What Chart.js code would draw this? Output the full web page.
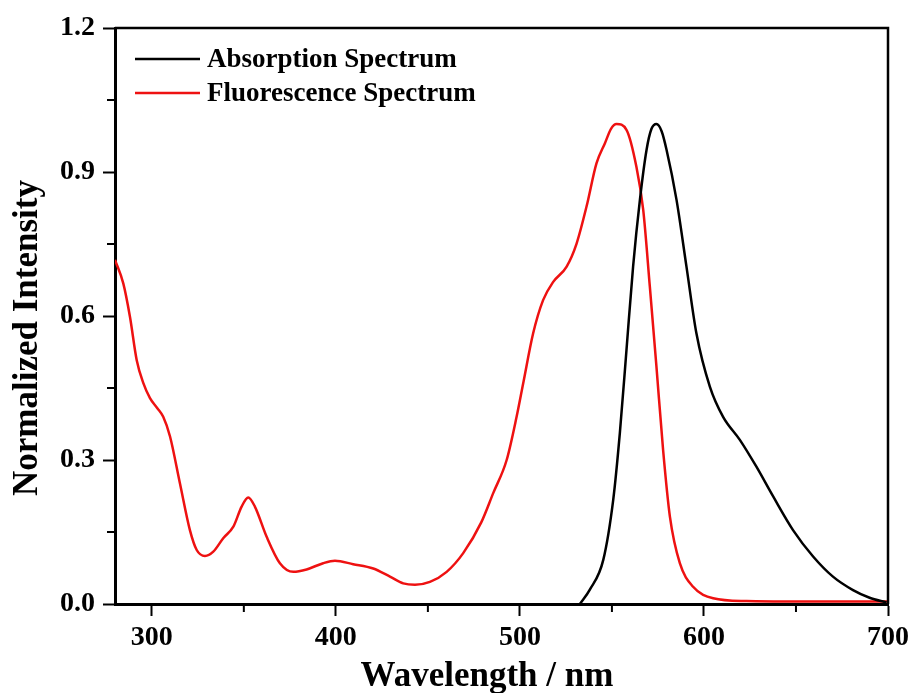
<!DOCTYPE html>
<html>
<head>
<meta charset="utf-8">
<script src="https://cdn.jsdelivr.net/npm/chart.js@4.4.1/dist/chart.umd.min.js"></script>
<style>
  html, body { margin: 0; padding: 0; background: #fff; }
  #wrap { width: 917px; height: 693px; }
</style>
</head>
<body>
<div id="wrap"><canvas id="spectra" width="917" height="693"></canvas></div>
<script>
// absorption (black)
const absWave = [532.6, 538, 545.3, 550.7, 554.3, 557.9, 561.5, 565.2, 568.8, 571.5, 574.2, 577, 579.7,
  585.1, 590.5, 595.9, 603.2, 610.4, 619.5, 628.5, 637.6, 648.4, 659.3, 670.1, 681, 690, 699.2];
const absVal = [0, 0.03, 0.092, 0.217, 0.356, 0.529, 0.703, 0.842, 0.946, 0.99, 1.0, 0.985, 0.946,
  0.842, 0.703, 0.564, 0.453, 0.390, 0.342, 0.286, 0.224, 0.154, 0.099, 0.057, 0.029, 0.013, 0.003];

// fluorescence (red)
const fluWave = [280, 284.5, 288.1, 291.8, 295.4, 299, 303, 306.2, 309.9, 315.3, 320.7, 324.4, 328.9,
  333.4, 338.8, 344.3, 348.8, 352.4, 356, 362.4, 369.6, 376.9, 384.1, 393.1, 399.5, 409.4, 420.3,
  429.4, 436.6, 443, 451.1, 460.2, 469.2, 479, 485.5, 492.8, 498.2, 501.8, 507.2, 512.6, 518.1,
  525.4, 530.8, 536.2, 541.6, 546.2, 549.5, 552.5, 557.9, 563.3, 567, 570.6, 574.2, 577.8, 581.5,
  586.9, 594.1, 605, 623.1, 650, 680, 700];
const fluVal = [0.717, 0.668, 0.599, 0.508, 0.460, 0.429, 0.408, 0.390, 0.349, 0.251, 0.154, 0.1125, 0.100,
  0.109, 0.137, 0.161, 0.203, 0.222, 0.203, 0.140, 0.085, 0.067, 0.072, 0.085, 0.090, 0.083, 0.074,
  0.057, 0.043, 0.040, 0.046, 0.067, 0.106, 0.170, 0.231, 0.300, 0.390, 0.46, 0.564, 0.633, 0.671,
  0.703, 0.751, 0.828, 0.918, 0.960, 0.99, 1.0, 0.988, 0.911, 0.821, 0.661, 0.494, 0.321, 0.182,
  0.085, 0.036, 0.012, 0.006, 0.005, 0.005, 0.005];

const xMajor = [300, 400, 500, 600, 700];
const xMinor = [350, 450, 550, 650];
const yMajor = [0, 0.3, 0.6, 0.9, 1.2];
const yMinor = [0.15, 0.45, 0.75, 1.05];

const xTitle = "Wavelength / nm";
const yTitle = "Normalized Intensity";

const FONT = "'Liberation Serif', 'Times New Roman', serif";

function pts(xs, ys) {
  return xs.map((x, i) => ({ x: x, y: ys[i] }));
}
function isMinor(v, list) {
  return list.some(m => Math.abs(m - v) < 1e-6);
}

// frame on top/right, short minor ticks, axis titles, legend inside plot
const extras = {
  id: "extras",
  afterDraw(chart) {
    const ctx = chart.ctx;
    const a = chart.chartArea;
    const xs = chart.scales.x, ys = chart.scales.y;
    ctx.save();
    ctx.strokeStyle = "#000";
    ctx.lineWidth = 2.5;
    ctx.beginPath();
    ctx.moveTo(a.left, a.top);
    ctx.lineTo(a.right, a.top);
    ctx.lineTo(a.right, a.bottom);
    ctx.stroke();

    ctx.lineWidth = 2;
    ctx.beginPath();
    xMinor.forEach(v => {
      const px = xs.getPixelForValue(v);
      ctx.moveTo(px, a.bottom);
      ctx.lineTo(px, a.bottom + 8);
    });
    yMinor.forEach(v => {
      const py = ys.getPixelForValue(v);
      ctx.moveTo(a.left, py);
      ctx.lineTo(a.left - 8, py);
    });
    ctx.stroke();

    // axis titles (sit a little off centre in the original)
    ctx.fillStyle = "#000";
    ctx.font = "bold 35px " + FONT;
    ctx.textAlign = "center";
    ctx.textBaseline = "alphabetic";
    ctx.fillText(xTitle, 487, 686);
    ctx.save();
    ctx.translate(37, 338);
    ctx.rotate(-Math.PI / 2);
    ctx.fillText(yTitle, 0, 0);
    ctx.restore();

    // legend
    ctx.font = "bold 27px " + FONT;
    ctx.textAlign = "left";
    ctx.textBaseline = "middle";
    chart.data.datasets.forEach((ds, i) => {
      const y = a.top + 31 + i * 34;
      ctx.strokeStyle = ds.borderColor;
      ctx.lineWidth = 2.5;
      ctx.beginPath();
      ctx.moveTo(a.left + 20, y);
      ctx.lineTo(a.left + 85, y);
      ctx.stroke();
      ctx.fillText(ds.label, a.left + 92, y + 1);
    });
    ctx.restore();
  }
};

new Chart(document.getElementById("spectra"), {
  type: "line",
  data: {
    datasets: [
      {
        label: "Absorption Spectrum",
        data: pts(absWave, absVal),
        borderColor: "#000000",
        borderWidth: 2.5,
        pointRadius: 0,
        cubicInterpolationMode: "monotone",
        fill: false,
      },
      {
        label: "Fluorescence Spectrum",
        data: pts(fluWave, fluVal),
        borderColor: "#ee1111",
        borderWidth: 2.5,
        pointRadius: 0,
        cubicInterpolationMode: "monotone",
        fill: false,
      },
    ],
  },
  options: {
    responsive: false,
    animation: false,
    layout: { padding: { left: 0, top: 28, right: 29, bottom: 0 } },
    plugins: {
      legend: { display: false },
      tooltip: { enabled: false },
    },
    scales: {
      x: {
        type: "linear",
        min: 280,
        max: 700,
        afterBuildTicks: (s) => {
          s.ticks = xMajor.concat(xMinor).sort((a, b) => a - b).map(v => ({ value: v }));
        },
        afterFit: (s) => { s.height = 89; },
        border: { color: "#000", width: 3 },
        grid: {
          drawOnChartArea: false,
          tickLength: 12,
          tickWidth: 2,
          tickColor: (c) => (c.tick && isMinor(c.tick.value, xMinor) ? "rgba(0,0,0,0)" : "#000"),
        },
        ticks: {
          color: "#000",
          padding: 5,
          maxRotation: 0,
          autoSkip: false,
          font: { family: FONT, size: 28, weight: "bold" },
          callback: (v) => (isMinor(v, xMinor) ? "" : String(v)),
        },
      },
      y: {
        type: "linear",
        min: 0,
        max: 1.2,
        afterBuildTicks: (s) => {
          s.ticks = yMajor.concat(yMinor).sort((a, b) => a - b).map(v => ({ value: v }));
        },
        afterFit: (s) => { s.width = 115; },
        border: { color: "#000", width: 3 },
        grid: {
          drawOnChartArea: false,
          tickLength: 12,
          tickWidth: 2,
          tickColor: (c) => (c.tick && isMinor(c.tick.value, yMinor) ? "rgba(0,0,0,0)" : "#000"),
        },
        ticks: {
          color: "#000",
          padding: 8,
          autoSkip: false,
          font: { family: FONT, size: 28, weight: "bold" },
          callback: (v) => (isMinor(v, yMinor) ? "" : v.toFixed(1)),
        },
      },
    },
  },
  plugins: [extras],
});
</script>
</body>
</html>
